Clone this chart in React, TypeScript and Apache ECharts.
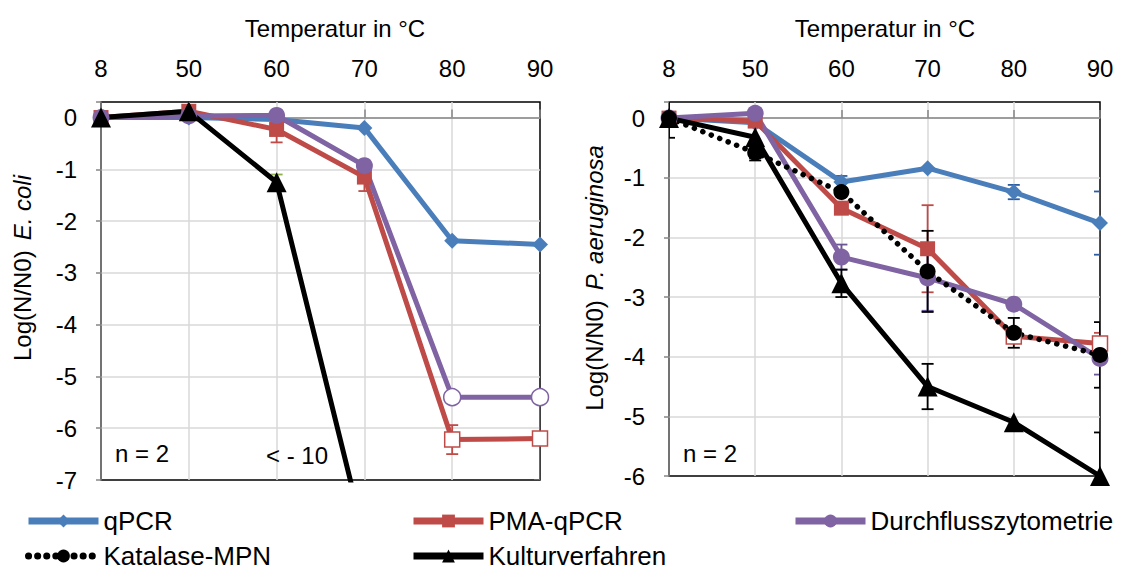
import React, { useEffect, useRef } from "react";
import * as echarts from "echarts";

// ---- data ----
const categories = ["8", "50", "60", "70", "80", "90"];

// E. coli (left chart)
const ecoliQpcr = [0, 0, -0.04, -0.2, -2.38, -2.45];
const ecoliPma = [0, 0.12, -0.23, -1.15, -6.22, -6.2];
const ecoliPmaErr = [0, 0, 0.25, 0.27, 0.28, 0.8];
const ecoliFcm = [0, 0.03, 0.04, -0.93, -5.4, -5.4];
const ecoliKultur = [0, 0.12, -1.25, -8.1, null, null];
const ecoliKulturErr = [0, 0, 0.15, 0, 0, 0];
const ecoliPmaOpen = [4, 5];
const ecoliFcmOpen = [4, 5];

// P. aeruginosa (right chart)
const paQpcr = [0, -0.08, -1.07, -0.84, -1.24, -1.76];
const paQpcrErr = [0, 0, 0.1, 0, 0.12, 0.53];
const paPma = [0, -0.05, -1.51, -2.19, -3.66, -3.78];
const paPmaErr = [0, 0, 0, 0.73, 0.1, 0.18];
const paPmaOpen = [4, 5];
const paFcm = [0, 0.08, -2.33, -2.68, -3.12, -4.03];
const paFcmErr = [0, 0, 0.21, 0.55, 0, 0.27];
const paKatalase = [0, -0.58, -1.24, -2.57, -3.6, -3.97];
const paKatalaseErr = [0, 0.13, 0, 0.68, 0.25, 0.55];
const paKultur = [0, -0.32, -2.77, -4.5, -5.1, -6.0];
const paKulturErr = [0.33, 0.35, 0.23, 0.38, 0, 0.73];

const yTicksLeft = { min: -7, max: 0.3 };
const yTicksRight = { min: -6, max: 0.27 };

// ---- styles ----
const FONT = "Liberation Sans, Arial, sans-serif";
const FS = 24;
const LEGEND_FS = 26;
const C_BLUE = "#4a7ebb";
const C_RED = "#be4b48";
const C_PURPLE = "#7f63a3";
const C_BLACK = "#000000";
const GRID_LINE = "#d9d9d9";
const AXIS_GRAY = "#868686";
const LW = 5;

function lineSeries(
  name: string,
  values: (number | null)[],
  color: string,
  symbol: string,
  size: number,
  chart: number,
  open: number[] = [],
  dotted = false
) {
  return {
    type: "line",
    name,
    xAxisIndex: chart * 2,
    yAxisIndex: chart,
    data: values.map((v, i) =>
      open.includes(i)
        ? { value: v, itemStyle: { color: "#ffffff", borderColor: color, borderWidth: 1.5 } }
        : v
    ),
    color,
    symbol,
    symbolSize: size,
    showAllSymbol: true,
    clip: true,
    connectNulls: false,
    itemStyle: { color },
    lineStyle: dotted
      ? { color, width: 5.5, type: [0.1, 9], cap: "round" }
      : { color, width: LW },
    emphasis: { disabled: true },
  };
}

function errorSeries(
  values: (number | null)[],
  errs: number[],
  color: string,
  chart: number
) {
  const data: number[][] = [];
  values.forEach((v, i) => {
    if (v !== null && errs[i] > 0) data.push([i, v - errs[i], v + errs[i]]);
  });
  return {
    type: "custom",
    xAxisIndex: chart * 2,
    yAxisIndex: chart,
    clip: true,
    silent: true,
    data,
    encode: { x: 0, y: [1, 2] },
    renderItem: (params: any, api: any) => {
      const x = api.value(0);
      const lo = api.coord([x, api.value(1)]);
      const hi = api.coord([x, api.value(2)]);
      const w = 6;
      const style = { stroke: color, lineWidth: 1.8 };
      return {
        type: "group",
        children: [
          { type: "line", shape: { x1: hi[0], y1: hi[1], x2: lo[0], y2: lo[1] }, style },
          { type: "line", shape: { x1: hi[0] - w, y1: hi[1], x2: hi[0] + w, y2: hi[1] }, style },
          { type: "line", shape: { x1: lo[0] - w, y1: lo[1], x2: lo[0] + w, y2: lo[1] }, style },
        ],
      };
    },
  };
}

function labelXAxis(grid: number) {
  return {
    type: "category",
    gridIndex: grid,
    data: categories,
    boundaryGap: false,
    position: "top",
    axisLine: { show: false, onZero: false },
    axisTick: { show: false },
    axisLabel: { fontSize: FS, color: "#000", margin: 22, fontFamily: FONT },
    splitLine: {
      show: true,
      showMinLine: false,
      showMaxLine: false,
      lineStyle: { color: GRID_LINE, width: 1.5 },
    },
  };
}

function zeroXAxis(grid: number) {
  return {
    type: "category",
    gridIndex: grid,
    data: categories,
    boundaryGap: false,
    position: "top",
    axisLine: { show: true, onZero: true, lineStyle: { color: AXIS_GRAY, width: 1.5 } },
    axisTick: { show: true, length: 8, lineStyle: { color: AXIS_GRAY, width: 1.5 } },
    axisLabel: { show: false },
    splitLine: { show: false },
  };
}

function yAxis(grid: number, range: { min: number; max: number }) {
  return {
    type: "value",
    gridIndex: grid,
    min: range.min,
    max: range.max,
    interval: 1,
    position: "left",
    axisLine: { show: true, onZero: false, lineStyle: { color: AXIS_GRAY, width: 1.5 } },
    axisTick: { show: true, length: 5, lineStyle: { color: AXIS_GRAY, width: 1.5 } },
    axisLabel: {
      fontSize: FS,
      color: "#000",
      margin: 24,
      fontFamily: FONT,
      formatter: (v: number) => (Number.isInteger(v) ? String(v) : ""),
    },
    splitLine: {
      show: true,
      showMinLine: false,
      showMaxLine: false,
      lineStyle: { color: GRID_LINE, width: 1.5 },
    },
  };
}

function legendItem(name: string, left: number, top: number) {
  return {
    data: [name],
    left,
    top,
    padding: 0,
    itemWidth: 70,
    itemHeight: 16,
    selectedMode: false,
    lineStyle: { width: 7 },
    textStyle: { fontSize: LEGEND_FS, color: "#000", fontFamily: FONT },
  };
}

function text(x: number, y: number, t: string, extra: any = {}) {
  return {
    type: "text",
    x,
    y,
    z: 100,
    style: {
      text: t,
      fontSize: FS,
      fontFamily: FONT,
      fill: "#000",
      align: "center",
      verticalAlign: "middle",
      ...extra,
    },
  };
}

export default function App() {
  const ref = useRef<HTMLDivElement>(null);

  useEffect(() => {
    if (!ref.current) return;
    const chart = echarts.init(ref.current, null, { renderer: "svg" });
    const option: any = {
      animation: false,
      textStyle: { fontFamily: FONT },
      grid: [
        { left: 101, top: 102, width: 439, height: 378, show: true, borderColor: "#000", borderWidth: 1.5 },
        { left: 669, top: 102, width: 431, height: 374, show: true, borderColor: "#000", borderWidth: 1.5 },
      ],
      xAxis: [labelXAxis(0), zeroXAxis(0), labelXAxis(1), zeroXAxis(1)],
      yAxis: [yAxis(0, yTicksLeft), yAxis(1, yTicksRight)],
      legend: [
        legendItem("qPCR", 25, 508),
        legendItem("PMA-qPCR", 410, 508),
        legendItem("Durchflusszytometrie", 792, 508),
        legendItem("Katalase-MPN", 25, 543),
        legendItem("Kulturverfahren", 410, 543),
      ],
      series: [
        // left chart
        lineSeries("qPCR", ecoliQpcr, C_BLUE, "diamond", 16, 0),
        errorSeries(ecoliPma, ecoliPmaErr, C_RED, 0),
        lineSeries("PMA-qPCR", ecoliPma, C_RED, "rect", 15, 0, ecoliPmaOpen),
        lineSeries("Durchflusszytometrie", ecoliFcm, C_PURPLE, "circle", 17, 0, ecoliFcmOpen),
        errorSeries(ecoliKultur, ecoliKulturErr, "#8db04a", 0),
        lineSeries("Kulturverfahren", ecoliKultur, C_BLACK, "triangle", 20, 0),
        // right chart
        errorSeries(paQpcr, paQpcrErr, "#2c5da3", 1),
        lineSeries("qPCR", paQpcr, C_BLUE, "diamond", 16, 1),
        errorSeries(paPma, paPmaErr, C_RED, 1),
        lineSeries("PMA-qPCR", paPma, C_RED, "rect", 15, 1, paPmaOpen),
        errorSeries(paFcm, paFcmErr, "#6a5694", 1),
        lineSeries("Durchflusszytometrie", paFcm, C_PURPLE, "circle", 17, 1),
        errorSeries(paKatalase, paKatalaseErr, C_BLACK, 1),
        lineSeries("Katalase-MPN", paKatalase, C_BLACK, "circle", 16, 1, [], true),
        errorSeries(paKultur, paKulturErr, C_BLACK, 1),
        lineSeries("Kulturverfahren", paKultur, C_BLACK, "triangle", 20, 1),
      ],
      graphic: [
        text(335, 28, "Temperatur in °C"),
        text(885, 28, "Temperatur in °C"),
        text(115, 453, "n = 2", { align: "left" }),
        text(266, 455, "< - 10", { align: "left" }),
        text(683, 453, "n = 2", { align: "left" }),
        {
          type: "text",
          x: 22,
          y: 268,
          rotation: Math.PI / 2,
          z: 100,
          style: {
            text: "{n|Log(N/N0)}   {i|E. coli}",
            align: "center",
            verticalAlign: "middle",
            rich: {
              n: { fontSize: FS, fontFamily: FONT, fill: "#000", color: "#000" },
              i: { fontSize: FS, fontFamily: FONT, fontStyle: "italic", fill: "#000", color: "#000" },
            },
          },
        },
        {
          type: "text",
          x: 594,
          y: 278,
          rotation: Math.PI / 2,
          z: 100,
          style: {
            text: "{n|Log(N/N0)}   {i|P. aeruginosa}",
            align: "center",
            verticalAlign: "middle",
            rich: {
              n: { fontSize: FS, fontFamily: FONT, fill: "#000", color: "#000" },
              i: { fontSize: FS, fontFamily: FONT, fontStyle: "italic", fill: "#000", color: "#000" },
            },
          },
        },
      ],
    };
    chart.setOption(option);
    return () => chart.dispose();
  }, []);

  return <div ref={ref} style={{ width: 1121, height: 570, position: "absolute", left: 0, top: 0 }} />;
}
